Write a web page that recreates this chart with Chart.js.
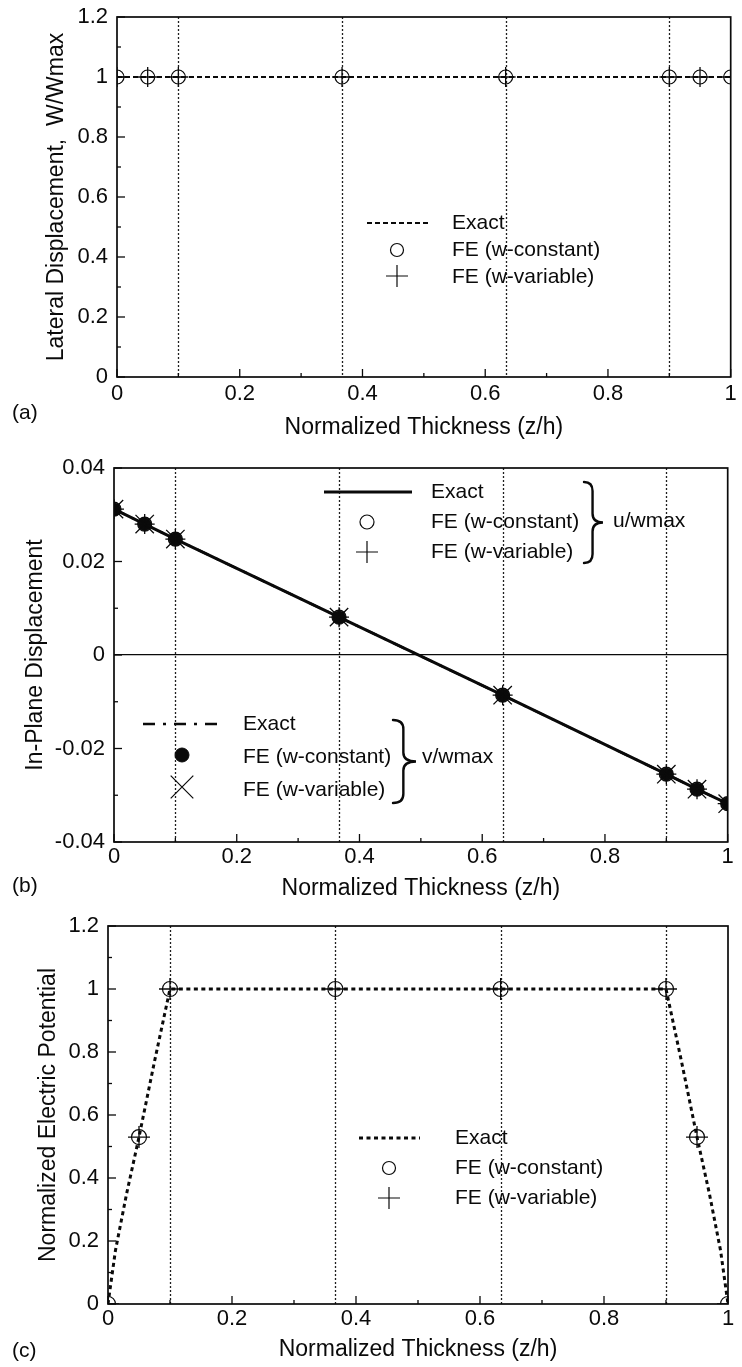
<!DOCTYPE html>
<html><head><meta charset="utf-8">
<script src="https://cdn.jsdelivr.net/npm/chart.js@4.4.1/dist/chart.umd.min.js"></script>
<style>
html,body{margin:0;padding:0;background:#fff;}
#wrap{position:relative;width:742px;height:1367px;overflow:hidden;background:#fff;}
canvas{position:absolute;left:0;}
.lab{position:absolute;font-family:'Liberation Sans',Arial,Helvetica,sans-serif;font-size:21px;line-height:24px;color:#0a0a0a;}
</style></head><body>
<div id="wrap">
<canvas id="ca" style="top:0px" width="742" height="445"></canvas>
<canvas id="cb" style="top:445px" width="742" height="460"></canvas>
<canvas id="cc" style="top:905px" width="742" height="462"></canvas>
<div class="lab" style="left:12px;top:400px">(a)</div>
<div class="lab" style="left:12px;top:873px">(b)</div>
<div class="lab" style="left:12px;top:1338px">(c)</div>
</div>
<script>
// ================= DATA =================
const layerInterfaces = [0.1, 0.3667, 0.6333, 0.9];
const xTickValues = [0, 0.2, 0.4, 0.6, 0.8, 1];
const xTickLabels = ['0', '0.2', '0.4', '0.6', '0.8', '1'];

// (a) lateral displacement W/Wmax
const aFeX = [0, 0.05, 0.1, 0.3667, 0.6333, 0.9, 0.95, 1];
const aFeConst = [1, 1, 1, 1, 1, 1, 1, 1];
const aFeVar = [1, 1, 1, 1, 1, 1, 1, 1];
const aExactX = [0, 0.1, 0.3667, 0.6333, 0.9, 1];
const aExact = [1, 1, 1, 1, 1, 1];
const aYTickValues = [0, 0.2, 0.4, 0.6, 0.8, 1, 1.2];
const aYTickLabels = ['0', '0.2', '0.4', '0.6', '0.8', '1', '1.2'];

// (b) in-plane displacement u/wmax, v/wmax
const bFeX = [0, 0.05, 0.1, 0.3667, 0.6333, 0.9, 0.95, 1];
const bUExact = [0.0312, 0.0280, 0.0248, 0.0081, -0.0086, -0.0255, -0.0287, -0.0318];
const bUConst = [0.0312, 0.0280, 0.0248, 0.0081, -0.0086, -0.0255, -0.0287, -0.0318];
const bUVar = [0.0312, 0.0280, 0.0248, 0.0081, -0.0086, -0.0255, -0.0287, -0.0318];
const bVExact = [0.0312, 0.0280, 0.0248, 0.0081, -0.0086, -0.0255, -0.0287, -0.0318];
const bVConst = [0.0312, 0.0280, 0.0248, 0.0081, -0.0086, -0.0255, -0.0287, -0.0318];
const bVVar = [0.0312, 0.0280, 0.0248, 0.0081, -0.0086, -0.0255, -0.0287, -0.0318];
const bYTickValues = [-0.04, -0.02, 0, 0.02, 0.04];
const bYTickLabels = ['-0.04', '-0.02', '0', '0.02', '0.04'];

// (c) normalized electric potential
const cFeX = [0, 0.05, 0.1, 0.3667, 0.6333, 0.9, 0.95, 1];
const cFeConst = [0, 0.53, 1, 1, 1, 1, 0.53, 0];
const cFeVar = [0, 0.53, 1, 1, 1, 1, 0.53, 0];
const cExactX = [0, 0.012, 0.03, 0.05, 0.075, 0.1, 0.3667, 0.6333, 0.9, 0.925, 0.95, 0.97, 0.988, 1];
const cExact = [0, 0.17, 0.35, 0.53, 0.77, 1, 1, 1, 1, 0.77, 0.53, 0.35, 0.17, 0];
const cYTickValues = [0, 0.2, 0.4, 0.6, 0.8, 1, 1.2];
const cYTickLabels = ['0', '0.2', '0.4', '0.6', '0.8', '1', '1.2'];

// ================= STYLE / LAYOUT =================
const FONT = "'Liberation Sans', Arial, Helvetica, sans-serif";
const INK = '#0a0a0a';
const TICK_FONT = 22, TITLE_FONT = 23, LEG_FONT = 21;

const pts = (xs, ys) => xs.map((x, i) => ({x: x, y: ys[i]}));

function drawMarker(ctx, style, r, x, y, fill, lw) {
  ctx.save();
  ctx.lineWidth = lw; ctx.strokeStyle = INK; ctx.fillStyle = fill ? INK : 'rgba(0,0,0,0)';
  ctx.beginPath();
  if (style === 'circle') { ctx.arc(x, y, r, 0, Math.PI * 2); if (fill) ctx.fill(); ctx.stroke(); }
  else if (style === 'cross') { ctx.moveTo(x - r, y); ctx.lineTo(x + r, y); ctx.moveTo(x, y - r); ctx.lineTo(x, y + r); ctx.stroke(); }
  else if (style === 'crossRot') { const d = r * Math.SQRT1_2; ctx.moveTo(x - d, y - d); ctx.lineTo(x + d, y + d); ctx.moveTo(x + d, y - d); ctx.lineTo(x - d, y + d); ctx.stroke(); }
  ctx.restore();
}

function drawBrace(ctx, x, y1, y2, w) {
  const xm = x + w * 0.45, ym = (y1 + y2) / 2, r = 9;
  ctx.save(); ctx.strokeStyle = INK; ctx.lineWidth = 2.4; ctx.lineCap = 'round';
  ctx.beginPath();
  ctx.moveTo(x, y1);
  ctx.quadraticCurveTo(xm, y1, xm, y1 + r);
  ctx.lineTo(xm, ym - r);
  ctx.quadraticCurveTo(xm, ym, x + w, ym);
  ctx.quadraticCurveTo(xm, ym, xm, ym + r);
  ctx.lineTo(xm, y2 - r);
  ctx.quadraticCurveTo(xm, y2, x, y2);
  ctx.stroke(); ctx.restore();
}

// legend/annotation specs in page coordinates
const decoSpec = {
  ca: {top: 0, items: [
    {t: 'line', x1: 367, x2: 428, y: 223, dash: [5, 3], w: 2.2},
    {t: 'text', x: 452, y: 223, s: 'Exact'},
    {t: 'pt', st: 'circle', r: 6.5, x: 397, y: 250, lw: 1.2},
    {t: 'text', x: 452, y: 250, s: 'FE (w-constant)'},
    {t: 'pt', st: 'cross', r: 11, x: 397, y: 276, lw: 1.2},
    {t: 'text', x: 452, y: 277, s: 'FE (w-variable)'}
  ]},
  cb: {top: 445, items: [
    {t: 'line', x1: 324, x2: 412, y: 492, dash: [], w: 3},
    {t: 'text', x: 431, y: 492, s: 'Exact'},
    {t: 'pt', st: 'circle', r: 7, x: 367, y: 522, lw: 1.2},
    {t: 'text', x: 431, y: 522, s: 'FE (w-constant)'},
    {t: 'pt', st: 'cross', r: 11, x: 367, y: 552, lw: 1.2},
    {t: 'text', x: 431, y: 552, s: 'FE (w-variable)'},
    {t: 'brace', x: 584, y1: 482, y2: 563, w: 19},
    {t: 'text', x: 613, y: 521, s: 'u/wmax'},
    {t: 'line', x1: 143, x2: 222, y: 724, dash: [12, 8, 3, 8], w: 2.4},
    {t: 'text', x: 243, y: 724, s: 'Exact'},
    {t: 'pt', st: 'circle', r: 7, x: 182, y: 755, lw: 1, fill: true},
    {t: 'text', x: 243, y: 757, s: 'FE (w-constant)'},
    {t: 'pt', st: 'crossRot', r: 16, x: 182, y: 787, lw: 1.2},
    {t: 'text', x: 243, y: 790, s: 'FE (w-variable)'},
    {t: 'brace', x: 393, y1: 720, y2: 803, w: 23},
    {t: 'text', x: 422, y: 757, s: 'v/wmax'}
  ]},
  cc: {top: 905, items: [
    {t: 'line', x1: 359, x2: 420, y: 1138, dash: [4, 3.5], w: 3},
    {t: 'text', x: 455, y: 1138, s: 'Exact'},
    {t: 'pt', st: 'circle', r: 6.5, x: 389, y: 1168, lw: 1.2},
    {t: 'text', x: 455, y: 1168, s: 'FE (w-constant)'},
    {t: 'pt', st: 'cross', r: 11, x: 389, y: 1198, lw: 1.2},
    {t: 'text', x: 455, y: 1198, s: 'FE (w-variable)'}
  ]}
};

const decoPlugin = {
  id: 'deco',
  beforeDatasetsDraw(chart) {
    const {ctx, chartArea: a, scales: {x}} = chart;
    ctx.save();
    ctx.beginPath(); ctx.rect(a.left, a.top, a.right - a.left, a.bottom - a.top); ctx.clip();
    ctx.strokeStyle = '#1e1e1e'; ctx.lineWidth = 1.3; ctx.setLineDash([2, 2]);
    layerInterfaces.forEach(v => {
      const px = Math.round(x.getPixelForValue(v)) + 0.5;
      ctx.beginPath(); ctx.moveTo(px, a.top); ctx.lineTo(px, a.bottom); ctx.stroke();
    });
    ctx.restore();
  },
  afterDatasetsDraw(chart) {
    const {ctx, chartArea: a, scales: {x, y}} = chart;
    ctx.save();
    ctx.strokeStyle = INK; ctx.lineWidth = 1.7; ctx.setLineDash([]);
    ctx.strokeRect(a.left, a.top, a.right - a.left, a.bottom - a.top);
    // inward ticks (major + minor)
    ctx.lineWidth = 1.3;
    const xv = x.ticks.map(t => t.value), yv = y.ticks.map(t => t.value);
    const tickX = (v, len) => { const p = x.getPixelForValue(v); ctx.beginPath(); ctx.moveTo(p, a.bottom); ctx.lineTo(p, a.bottom - len); ctx.stroke(); };
    const tickY = (v, len) => { const p = y.getPixelForValue(v); ctx.beginPath(); ctx.moveTo(a.left, p); ctx.lineTo(a.left + len, p); ctx.stroke(); };
    xv.forEach((v, i) => { tickX(v, 8); if (i < xv.length - 1) tickX((v + xv[i + 1]) / 2, 4); });
    yv.forEach((v, i) => { tickY(v, 8); if (i < yv.length - 1) tickY((v + yv[i + 1]) / 2, 4); });
    ctx.restore();
    // legend & annotations
    const spec = decoSpec[chart.canvas.id];
    const T = spec.top;
    spec.items.forEach(it => {
      if (it.t === 'line') {
        ctx.save(); ctx.strokeStyle = INK; ctx.lineWidth = it.w; ctx.setLineDash(it.dash);
        ctx.beginPath(); ctx.moveTo(it.x1, it.y - T); ctx.lineTo(it.x2, it.y - T); ctx.stroke(); ctx.restore();
      } else if (it.t === 'text') {
        ctx.save(); ctx.fillStyle = INK; ctx.font = LEG_FONT + 'px ' + FONT; ctx.textBaseline = 'middle'; ctx.textAlign = 'left';
        ctx.fillText(it.s, it.x, it.y - T); ctx.restore();
      } else if (it.t === 'pt') {
        drawMarker(ctx, it.st, it.r, it.x, it.y - T, !!it.fill, it.lw);
      } else if (it.t === 'brace') {
        drawBrace(ctx, it.x, it.y1 - T, it.y2 - T, it.w);
      }
    });
  }
};

function makeChart(id, g, datasets, yMin, yMax, yVals, yLabels, yTitle, zeroLine) {
  const lh = TITLE_FONT * 1.2;
  const xAxisH = g.titleY - g.areaBottom + lh / 2;
  const padTop = g.areaTop - g.top;
  const padBottom = g.h - (g.areaBottom - g.top) - xAxisH;
  return new Chart(document.getElementById(id), {
    type: 'scatter',
    data: {datasets: datasets},
    options: {
      responsive: false, animation: false, events: [],
      layout: {padding: {left: 0, top: padTop, right: 742 - g.right, bottom: padBottom}},
      plugins: {legend: {display: false}, tooltip: {enabled: false}, title: {display: false}},
      scales: {
        x: {
          type: 'linear', min: 0, max: 1, position: 'bottom',
          afterBuildTicks: s => { s.ticks = xTickValues.map(v => ({value: v})); },
          afterFit: s => { s.height = xAxisH; s.paddingLeft = 0; s.paddingRight = 0; },
          ticks: {callback: (v, i) => xTickLabels[i], padding: g.xPad, maxRotation: 0, autoSkip: false,
                  color: INK, font: {family: FONT, size: TICK_FONT}},
          grid: {display: false, drawTicks: false},
          border: {display: false},
          title: {display: true, text: 'Normalized Thickness (z/h)', color: INK, padding: 0,
                  font: {family: FONT, size: TITLE_FONT}}
        },
        y: {
          type: 'linear', min: yMin, max: yMax, position: 'left',
          afterBuildTicks: s => { s.ticks = yVals.map(v => ({value: v})); },
          afterFit: s => { s.width = g.left; s.paddingTop = 0; s.paddingBottom = 0; },
          ticks: {callback: (v, i) => yLabels[i], padding: 9, autoSkip: false,
                  color: INK, font: {family: FONT, size: TICK_FONT}},
          grid: {display: zeroLine, drawTicks: false, lineWidth: 1.3,
                 color: c => (zeroLine && c.tick && Math.abs(c.tick.value) < 1e-9) ? INK : 'rgba(0,0,0,0)'},
          border: {display: false},
          title: {display: true, text: yTitle, color: INK, padding: {top: g.yTitleX - lh / 2, bottom: 0},
                  font: {family: FONT, size: TITLE_FONT}}
        }
      }
    },
    plugins: [decoPlugin]
  });
}

const markerDs = (data, style, r, fill, lw) => ({
  data: data, showLine: false, pointStyle: style, pointRadius: r, pointHoverRadius: r,
  pointBorderWidth: lw, pointBorderColor: INK, pointBackgroundColor: fill ? INK : 'rgba(0,0,0,0)', clip: 0
});
const lineDs = (data, dash, w) => ({
  data: data, showLine: true, pointRadius: 0, borderColor: INK, borderWidth: w, borderDash: dash,
  borderCapStyle: 'butt', fill: false, tension: 0, clip: 0
});

// (a)
makeChart('ca', {top: 0, h: 445, left: 117, right: 742, areaTop: 17, areaBottom: 377, titleY: 428, yTitleX: 57, xPad: 4}, [
  markerDs(pts(aFeX, aFeVar), 'cross', 10, false, 1.3),
  markerDs(pts(aFeX, aFeConst), 'circle', 7, false, 1.2),
  lineDs(pts(aExactX, aExact), [5, 3], 2.2)
], 0, 1.2, aYTickValues, aYTickLabels, 'Lateral Displacement,  W/Wmax', false);

// (b)
makeChart('cb', {top: 445, h: 460, left: 114, right: 737, areaTop: 468, areaBottom: 842, titleY: 889, yTitleX: 36, xPad: 2}, [
  markerDs(pts(bFeX, bVVar), 'crossRot', 13, false, 1.3),
  markerDs(pts(bFeX, bUVar), 'cross', 10, false, 1.3),
  markerDs(pts(bFeX, bVConst), 'circle', 6.5, true, 1),
  markerDs(pts(bFeX, bUConst), 'circle', 7, false, 1.2),
  lineDs(pts(bFeX, bVExact), [12, 8, 3, 8], 2.4),
  lineDs(pts(bFeX, bUExact), [], 3)
], -0.04, 0.04, bYTickValues, bYTickLabels, 'In-Plane Displacement', true);

// (c)
makeChart('cc', {top: 905, h: 462, left: 108, right: 728, areaTop: 926, areaBottom: 1304, titleY: 1350, yTitleX: 49, xPad: 2}, [
  markerDs(pts(cFeX, cFeVar), 'cross', 11, false, 1.3),
  markerDs(pts(cFeX, cFeConst), 'circle', 7.5, false, 1.2),
  lineDs(pts(cExactX, cExact), [4, 3.5], 3)
], 0, 1.2, cYTickValues, cYTickLabels, 'Normalized Electric Potential', false);
</script>
</body></html>
